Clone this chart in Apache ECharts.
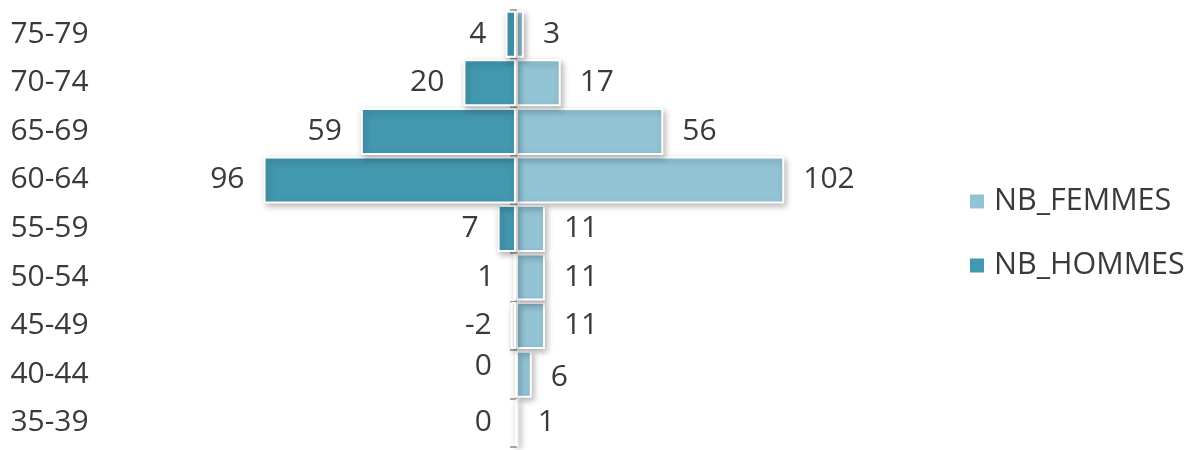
<!DOCTYPE html>
<html>
<head>
<meta charset="utf-8">
<script src="https://cdn.jsdelivr.net/npm/echarts@6/dist/echarts.min.js"></script>
<style>
html,body{margin:0;padding:0;background:#fff;}
#c{width:1187px;height:450px;}
</style>
</head>
<body>
<div id="c"></div>
<script>
const categories = ['35-39','40-44','45-49','50-54','55-59','60-64','65-69','70-74','75-79'];
const femmes = [1, 6, 11, 11, 11, 102, 56, 17, 3];
const hommes = [0, 0, -2, 1, 7, 96, 59, 20, 4];

const FONT = '"Open Sans", "Liberation Sans", sans-serif';
const TXT = '#3a3a3a';
const DARK = '#4298AF';
const LIGHT = '#93C4D6';

const barStyle = {
  borderColor: '#ffffff',
  borderWidth: 2,
  shadowBlur: 6,
  shadowOffsetX: 2,
  shadowOffsetY: 3,
  shadowColor: 'rgba(0,0,0,0.28)'
};

const chart = echarts.init(document.getElementById('c'), null, {renderer: 'canvas'});
chart.setOption({
  animation: false,
  backgroundColor: '#ffffff',
  textStyle: {fontFamily: FONT, color: TXT},
  grid: {left: 200.4, right: 250.2, top: 10, bottom: 3, containLabel: false, outerBoundsMode: 'none'},
  legend: {
    orient: 'vertical',
    left: 963,
    top: 181,
    itemWidth: 16,
    itemHeight: 16,
    itemGap: 33,
    icon: 'rect',
    data: ['NB_FEMMES', 'NB_HOMMES'],
    textStyle: {fontFamily: FONT, fontSize: 30.5, color: TXT, lineHeight: 30, padding: [0,0,0,4]}
  },
  xAxis: {
    type: 'value',
    min: -120,
    max: 160,
    show: false
  },
  yAxis: {
    type: 'category',
    data: categories,
    axisLine: {show: true, onZero: true, lineStyle: {color: '#8c8c8c', width: 1.5}},
    axisTick: {show: true, length: 6, inside: false, lineStyle: {color: '#8c8c8c', width: 1.5}},
    axisLabel: {
      margin: 190,
      align: 'left',
      fontFamily: FONT,
      fontSize: 30,
      color: TXT
    },
    splitLine: {show: false}
  },
  series: [
    {
      name: 'NB_FEMMES',
      type: 'bar',
      barWidth: 47,
      barGap: '-100%',
      itemStyle: Object.assign({color: LIGHT}, barStyle),
      label: {
        show: true,
        position: 'right',
        distance: 19,
        fontFamily: FONT,
        fontSize: 30,
        color: TXT
      },
      data: femmes.map((v, i) => ({
        value: v,
        label: categories[i] === '40-44' ? {offset: [0, 3]} : undefined
      }))
    },
    {
      name: 'NB_HOMMES',
      type: 'bar',
      barWidth: 47,
      barGap: '-100%',
      itemStyle: Object.assign({color: DARK}, barStyle),
      label: {
        show: true,
        position: 'left',
        distance: 19,
        fontFamily: FONT,
        fontSize: 30,
        color: TXT,
        formatter: p => String(hommes[p.dataIndex])
      },
      data: hommes.map((v, i) => ({
        value: -Math.abs(v),
        itemStyle: v < 0 ? {color: '#eef6f9'} : undefined,
        label: categories[i] === '40-44' ? {offset: [-4, -8]} : (v === 0 ? {offset: [-4, 0]} : undefined)
      }))
    }
  ]
});
</script>
</body>
</html>
